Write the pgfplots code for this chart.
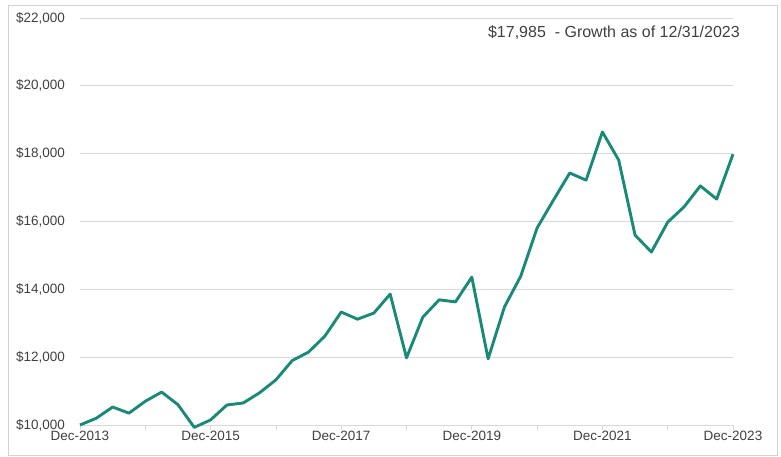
\documentclass[border=0pt]{standalone}
\usepackage{fontspec}
\setmainfont{Liberation Sans}
\usepackage{pgfplots}
\pgfplotsset{compat=1.18}
\usepackage{pgfplotstable}
\definecolor{teal1}{RGB}{24,138,119}
\definecolor{lbl}{RGB}{64,64,64}
\definecolor{grd}{RGB}{217,217,217}
\definecolor{frm}{RGB}{210,210,210}
\pgfplotstableread{
q v
0 10000
1 10200
2 10530
3 10350
4 10700
5 10970
6 10600
7 9930
8 10150
9 10590
10 10650
11 10950
12 11330
13 11900
14 12150
15 12620
16 13330
17 13120
18 13300
19 13860
20 11980
21 13180
22 13690
23 13630
24 14360
25 11950
26 13480
27 14390
28 15810
29 16630
30 17430
31 17220
32 18640
33 17810
34 15600
35 15100
36 15980
37 16430
38 17050
39 16660
40 17985
}\growth
\begin{document}
\begin{tikzpicture}
\useasboundingbox (0,0) rectangle (781bp,457bp);
\draw[frm, line width=0.8bp] (8bp,2bp) rectangle (777bp,452bp);
\begin{axis}[
  at={(80bp,32bp)}, anchor=south west,
  scale only axis, width=653bp, height=407bp,
  xmin=0, xmax=40, ymin=10000, ymax=22000,
  clip=false,
  scaled y ticks=false,
  axis x line*=bottom, axis y line*=left,
  y axis line style={draw=none},
  x axis line style={draw=grd, line width=0.8bp},
  ymajorgrids, grid style={draw=grd, line width=0.8bp},
  ytick={10000,12000,...,22000},
  yticklabels={{\$10,000},{\$12,000},{\$14,000},{\$16,000},{\$18,000},{\$20,000},{\$22,000}},
  ytick style={draw=none},
  xtick={0,4,...,40},
  xticklabels={Dec-2013,,Dec-2015,,Dec-2017,,Dec-2019,,Dec-2021,,Dec-2023},
  tick align=outside,
  major tick length=5bp,
  xtick style={draw=grd, line width=0.8bp},
  tick label style={font=\fontsize{13.5bp}{16bp}\selectfont, text=lbl, inner sep=0pt},
  yticklabel style={anchor=east, xshift=-10bp},
  xticklabel style={anchor=north, yshift=-1bp},
]
\addplot[teal1, line width=2.9bp, line join=round] table[x=q, y=v] {\growth};
\end{axis}
\node[anchor=east, inner sep=0pt, text=lbl, font=\fontsize{16bp}{19bp}\selectfont] at (740bp,424bp) {\$17,985~ - Growth as of 12/31/2023};
\end{tikzpicture}
\end{document}
